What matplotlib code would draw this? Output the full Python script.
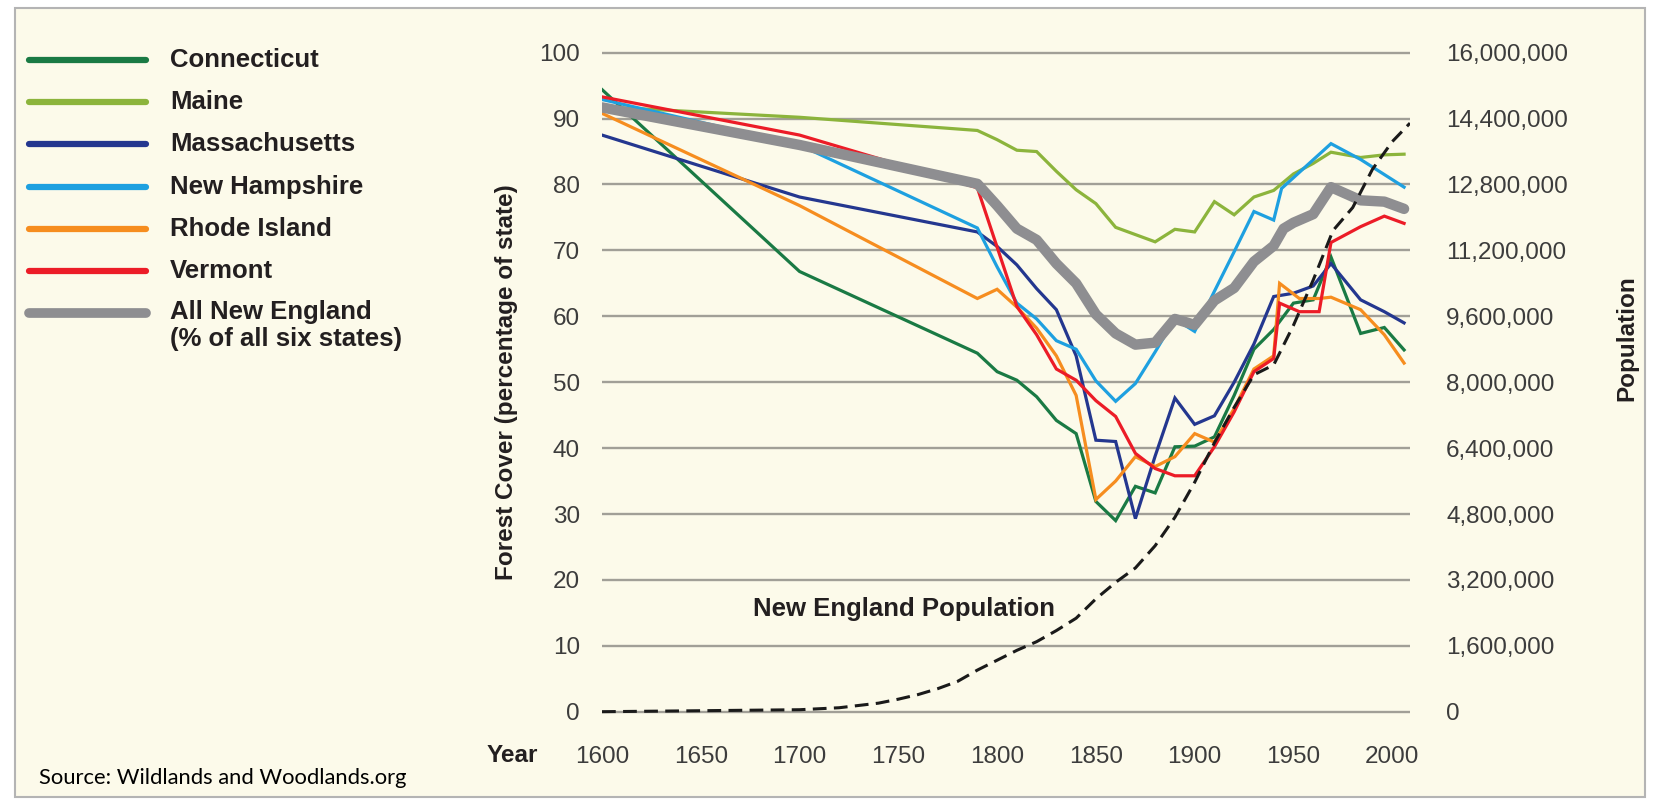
import matplotlib
matplotlib.use("Agg")
import matplotlib.pyplot as plt
from matplotlib.patches import Rectangle
from matplotlib.lines import Line2D
from matplotlib.ticker import FuncFormatter

plt.rcParams['font.family'] = ['Liberation Sans', 'DejaVu Sans']

# forest cover, percentage of each state
ct_years = [1600, 1700, 1790, 1800, 1810, 1820, 1830, 1840, 1850, 1860, 1870, 1880, 1890,
            1900, 1910, 1920, 1930, 1940, 1950, 1960, 1969, 1984, 1996, 2006]
ct_cover = [94.4, 66.8, 54.4, 51.6, 50.3, 47.8, 44.2, 42.2, 31.9, 29.0, 34.2, 33.2, 40.2,
            40.3, 41.7, 48.0, 55.0, 58.0, 62.0, 62.5, 69.0, 57.4, 58.3, 54.9]

me_years = [1600, 1700, 1790, 1800, 1810, 1820, 1830, 1840, 1850, 1860, 1870, 1880, 1890,
            1900, 1910, 1920, 1930, 1940, 1950, 1960, 1969, 1984, 1996, 2006]
me_cover = [91.8, 90.2, 88.2, 86.8, 85.2, 85.0, 82.0, 79.2, 77.1, 73.5, 72.4, 71.3, 73.2,
            72.8, 77.4, 75.4, 78.1, 79.1, 81.6, 83.2, 84.9, 84.1, 84.5, 84.6]

ma_years = [1600, 1700, 1790, 1800, 1810, 1820, 1830, 1840, 1850, 1860, 1870, 1880, 1890,
            1900, 1910, 1920, 1930, 1940, 1950, 1960, 1969, 1984, 1996, 2006]
ma_cover = [87.5, 78.1, 72.8, 70.6, 67.8, 64.2, 61.0, 54.0, 41.2, 41.0, 29.3, 38.8, 47.6,
            43.6, 44.9, 50.0, 55.8, 63.0, 63.5, 64.6, 68.0, 62.5, 60.7, 59.0]

nh_years = [1600, 1700, 1790, 1800, 1810, 1820, 1830, 1840, 1850, 1860, 1870, 1880, 1890,
            1900, 1910, 1920, 1930, 1940, 1944, 1969, 1984, 2006]
nh_cover = [92.9, 86.0, 73.4, 67.5, 62.0, 59.6, 56.3, 55.0, 50.2, 47.1, 49.8, 54.6, 59.6,
            57.7, 63.8, 69.8, 75.9, 74.6, 79.4, 86.2, 83.8, 79.6]

ri_years = [1600, 1700, 1790, 1800, 1810, 1820, 1830, 1840, 1850, 1860, 1870, 1880, 1890,
            1900, 1910, 1920, 1930, 1940, 1943, 1953, 1963, 1969, 1984, 1996, 2006]
ri_cover = [90.8, 76.8, 62.7, 64.1, 61.4, 58.2, 54.0, 48.0, 32.2, 35.0, 38.7, 37.2, 38.7,
            42.2, 40.9, 46.0, 52.0, 54.0, 65.0, 62.7, 62.7, 62.9, 61.0, 57.2, 52.9]

vt_years = [1600, 1700, 1790, 1810, 1820, 1830, 1840, 1850, 1860, 1870, 1880, 1890,
            1900, 1910, 1920, 1930, 1940, 1943, 1953, 1963, 1969, 1984, 1996, 2006]
vt_cover = [93.3, 87.5, 79.5, 61.5, 57.2, 52.0, 50.3, 47.2, 44.8, 39.2, 36.9, 35.8,
            35.8, 40.2, 45.5, 51.6, 53.6, 62.0, 60.7, 60.7, 71.2, 73.6, 75.2, 74.1]

ne_years = [1600, 1700, 1790, 1800, 1810, 1820, 1830, 1840, 1850, 1860, 1870, 1880, 1890,
            1900, 1910, 1920, 1930, 1940, 1945, 1950, 1960, 1969, 1984, 1996, 2006]
ne_cover = [91.7, 86.0, 80.1, 76.8, 73.3, 71.6, 68.0, 65.0, 60.3, 57.4, 55.7, 56.0, 59.6,
            58.7, 62.4, 64.3, 68.3, 70.7, 73.3, 74.2, 75.5, 79.6, 77.6, 77.4, 76.3]

# New England population (right axis)
pop_years = [1600, 1700, 1720, 1740, 1750, 1760, 1770, 1780, 1790, 1800, 1810, 1820, 1830,
             1840, 1850, 1860, 1870, 1880, 1890, 1900, 1910, 1920, 1930, 1940, 1950, 1960,
             1970, 1980, 1990, 2000, 2009]
population = [0, 48000, 96000, 208000, 304000, 416000, 560000, 736000, 1010000, 1250000,
              1490000, 1700000, 1970000, 2270000, 2740000, 3140000, 3490000, 4030000,
              4720000, 5570000, 6530000, 7390000, 8180000, 8420000, 9380000, 10480000,
              11680000, 12240000, 13170000, 13840000, 14290000]

states = ['Connecticut', 'Maine', 'Massachusetts', 'New Hampshire', 'Rhode Island', 'Vermont']
state_years = [ct_years, me_years, ma_years, nh_years, ri_years, vt_years]
state_cover = [ct_cover, me_cover, ma_cover, nh_cover, ri_cover, vt_cover]
colors = ['#1a7a44', '#8cb43c', '#24378f', '#1ea0e0', '#f68d1f', '#ec1c27']
gray = '#8e8e91'
cream = '#fcfaea'
txt = '#231f20'

W, H = 1653, 801
fig = plt.figure(figsize=(W / 100, H / 100), dpi=100)
fig.patch.set_facecolor('white')
fig.add_artist(Rectangle((15 / W, 1 - 797 / H), 1630 / W, 789 / H, transform=fig.transFigure,
                         facecolor=cream, edgecolor='#b4b4b4', lw=1.5, zorder=-10))

ax = fig.add_axes([602 / W, 1 - 715 / H, 808 / W, 665.6 / H])
ax.set_facecolor('none')
for s in ax.spines.values():
    s.set_visible(False)

for yrs, cov, c in zip(state_years, state_cover, colors):
    ax.plot(yrs, cov, color=c, lw=2.3, solid_joinstyle='miter', zorder=3)
ax.plot(ne_years, ne_cover, color=gray, lw=7.5, solid_capstyle='round', zorder=4)

ax.set_xlim(1600, 2009)
ax.set_ylim(-0.5, 100.5)
ax.set_yticks(range(0, 101, 10))
ax.set_xticks(range(1600, 2001, 50))
ax.grid(axis='y', color='#a19f97', lw=1.7, zorder=1)
ax.tick_params(axis='both', length=0, labelsize=17.5, labelcolor='#3c3c3c')
ax.tick_params(axis='y', pad=16)
ax.tick_params(axis='x', pad=22)

ax2 = ax.twinx()
ax2.set_ylim(-0.5 * 160000, 100.5 * 160000)
ax2.set_yticks(range(0, 16000001, 1600000))
ax2.yaxis.set_major_formatter(FuncFormatter(lambda v, _: f'{int(v):,}'))
for s in ax2.spines.values():
    s.set_visible(False)
ax2.tick_params(axis='y', length=0, labelsize=17.5, labelcolor='#3c3c3c', pad=26)
ax2.plot(pop_years, population, color='#1a1a1a', lw=2.2, ls=(0, (4.5, 2.4)), zorder=5)

ax.text(1753, 15.6, 'New England Population', ha='center', va='center',
        fontsize=18.5, fontweight='bold', color=txt, zorder=6)

fig.text(506 / W, 1 - 382 / H, 'Forest Cover (percentage of state)', rotation=90,
         ha='center', va='center', fontsize=17.5, fontweight='bold', color=txt)
fig.text(1627 / W, 1 - 338 / H, 'Population', rotation=90,
         ha='center', va='center', fontsize=17.5, fontweight='bold', color=txt)
fig.text(538 / W, 1 - 755 / H, 'Year', ha='right', va='center',
         fontsize=17.5, fontweight='bold', color=txt)
fig.text(39 / W, 1 - 778 / H, 'Source: Wildlands and Woodlands.org', ha='left', va='center',
         fontsize=15.8, family='Lato', color='black')

# legend
labels = states + ['All New England\n(% of all six states)']
leg_colors = colors + [gray]
for i, (lab, c) in enumerate(zip(labels, leg_colors)):
    y = 1 - (60 + i * 42.2) / H
    lw = 7 if c == gray else 4.5
    fig.add_artist(Line2D([29 / W, 146 / W], [y, y], color=c, lw=lw,
                          solid_capstyle='round', transform=fig.transFigure))
    if '\n' in lab:
        fig.text(170 / W, y + 13 / H, lab, ha='left', va='top', fontsize=18.5,
                 fontweight='bold', color=txt, linespacing=1.15)
    else:
        fig.text(170 / W, y, lab, ha='left', va='center', fontsize=18.5,
                 fontweight='bold', color=txt)

fig.savefig('out.png', dpi=100)
